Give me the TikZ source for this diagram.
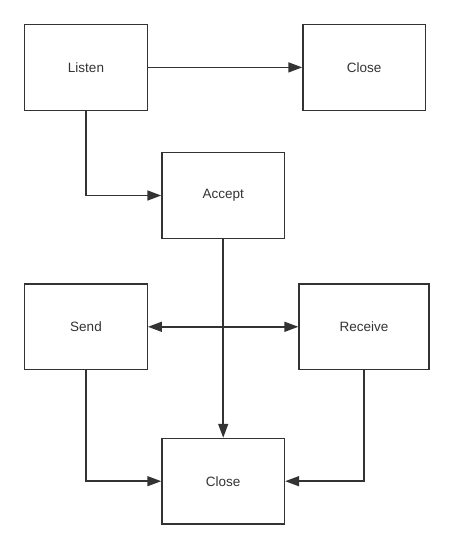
\documentclass[tikz,border=0pt]{standalone}
\usepackage{fontspec}
\setmainfont{Liberation Sans}
\usetikzlibrary{arrows.meta, positioning}
\definecolor{linegray}{HTML}{333333}
\tikzstyle{statebox} = [draw=linegray, line width=1.3pt, rectangle, text centered, text=linegray, minimum width=122.6pt, minimum height=85.6pt, font=\fontsize{13.5}{16}\selectfont]
\tikzstyle{flowarrow} = [-{Triangle[length=14pt,width=10pt]}, draw=linegray, line width=1.6pt]
\tikzstyle{flowarrowboth} = [{Triangle[length=14pt,width=10pt]}-{Triangle[length=14pt,width=10pt]}, draw=linegray, line width=1.6pt]

\begin{document}
\begin{tikzpicture}[x=1pt, y=-1pt]
	\useasboundingbox (0,0) rectangle (454,549);
		\node (listen) [statebox] at (86,67.4) {Listen};
		\node (close_top) [statebox] at (364.2,67.4) {Close};
		\node (accept) [statebox] at (223.2,195.5) {Accept};
		\node (send) [statebox] at (86,326.8) {Send};
		\node (receive) [statebox, minimum width=130pt] at (364,326.8) {Receive};
		\node (close_bottom) [statebox] at (223.2,481.2) {Close};
		\draw [flowarrow] (listen) -- (close_top);
		\draw [flowarrow] (listen) |- (accept);
		\draw [flowarrow] (accept) -- (close_bottom);
		\draw [flowarrowboth] (send) -- (receive);
		\draw [flowarrow] (send) |- (close_bottom);
		\draw [flowarrow] (receive) |- (close_bottom);
	\end{tikzpicture}
\end{document}
